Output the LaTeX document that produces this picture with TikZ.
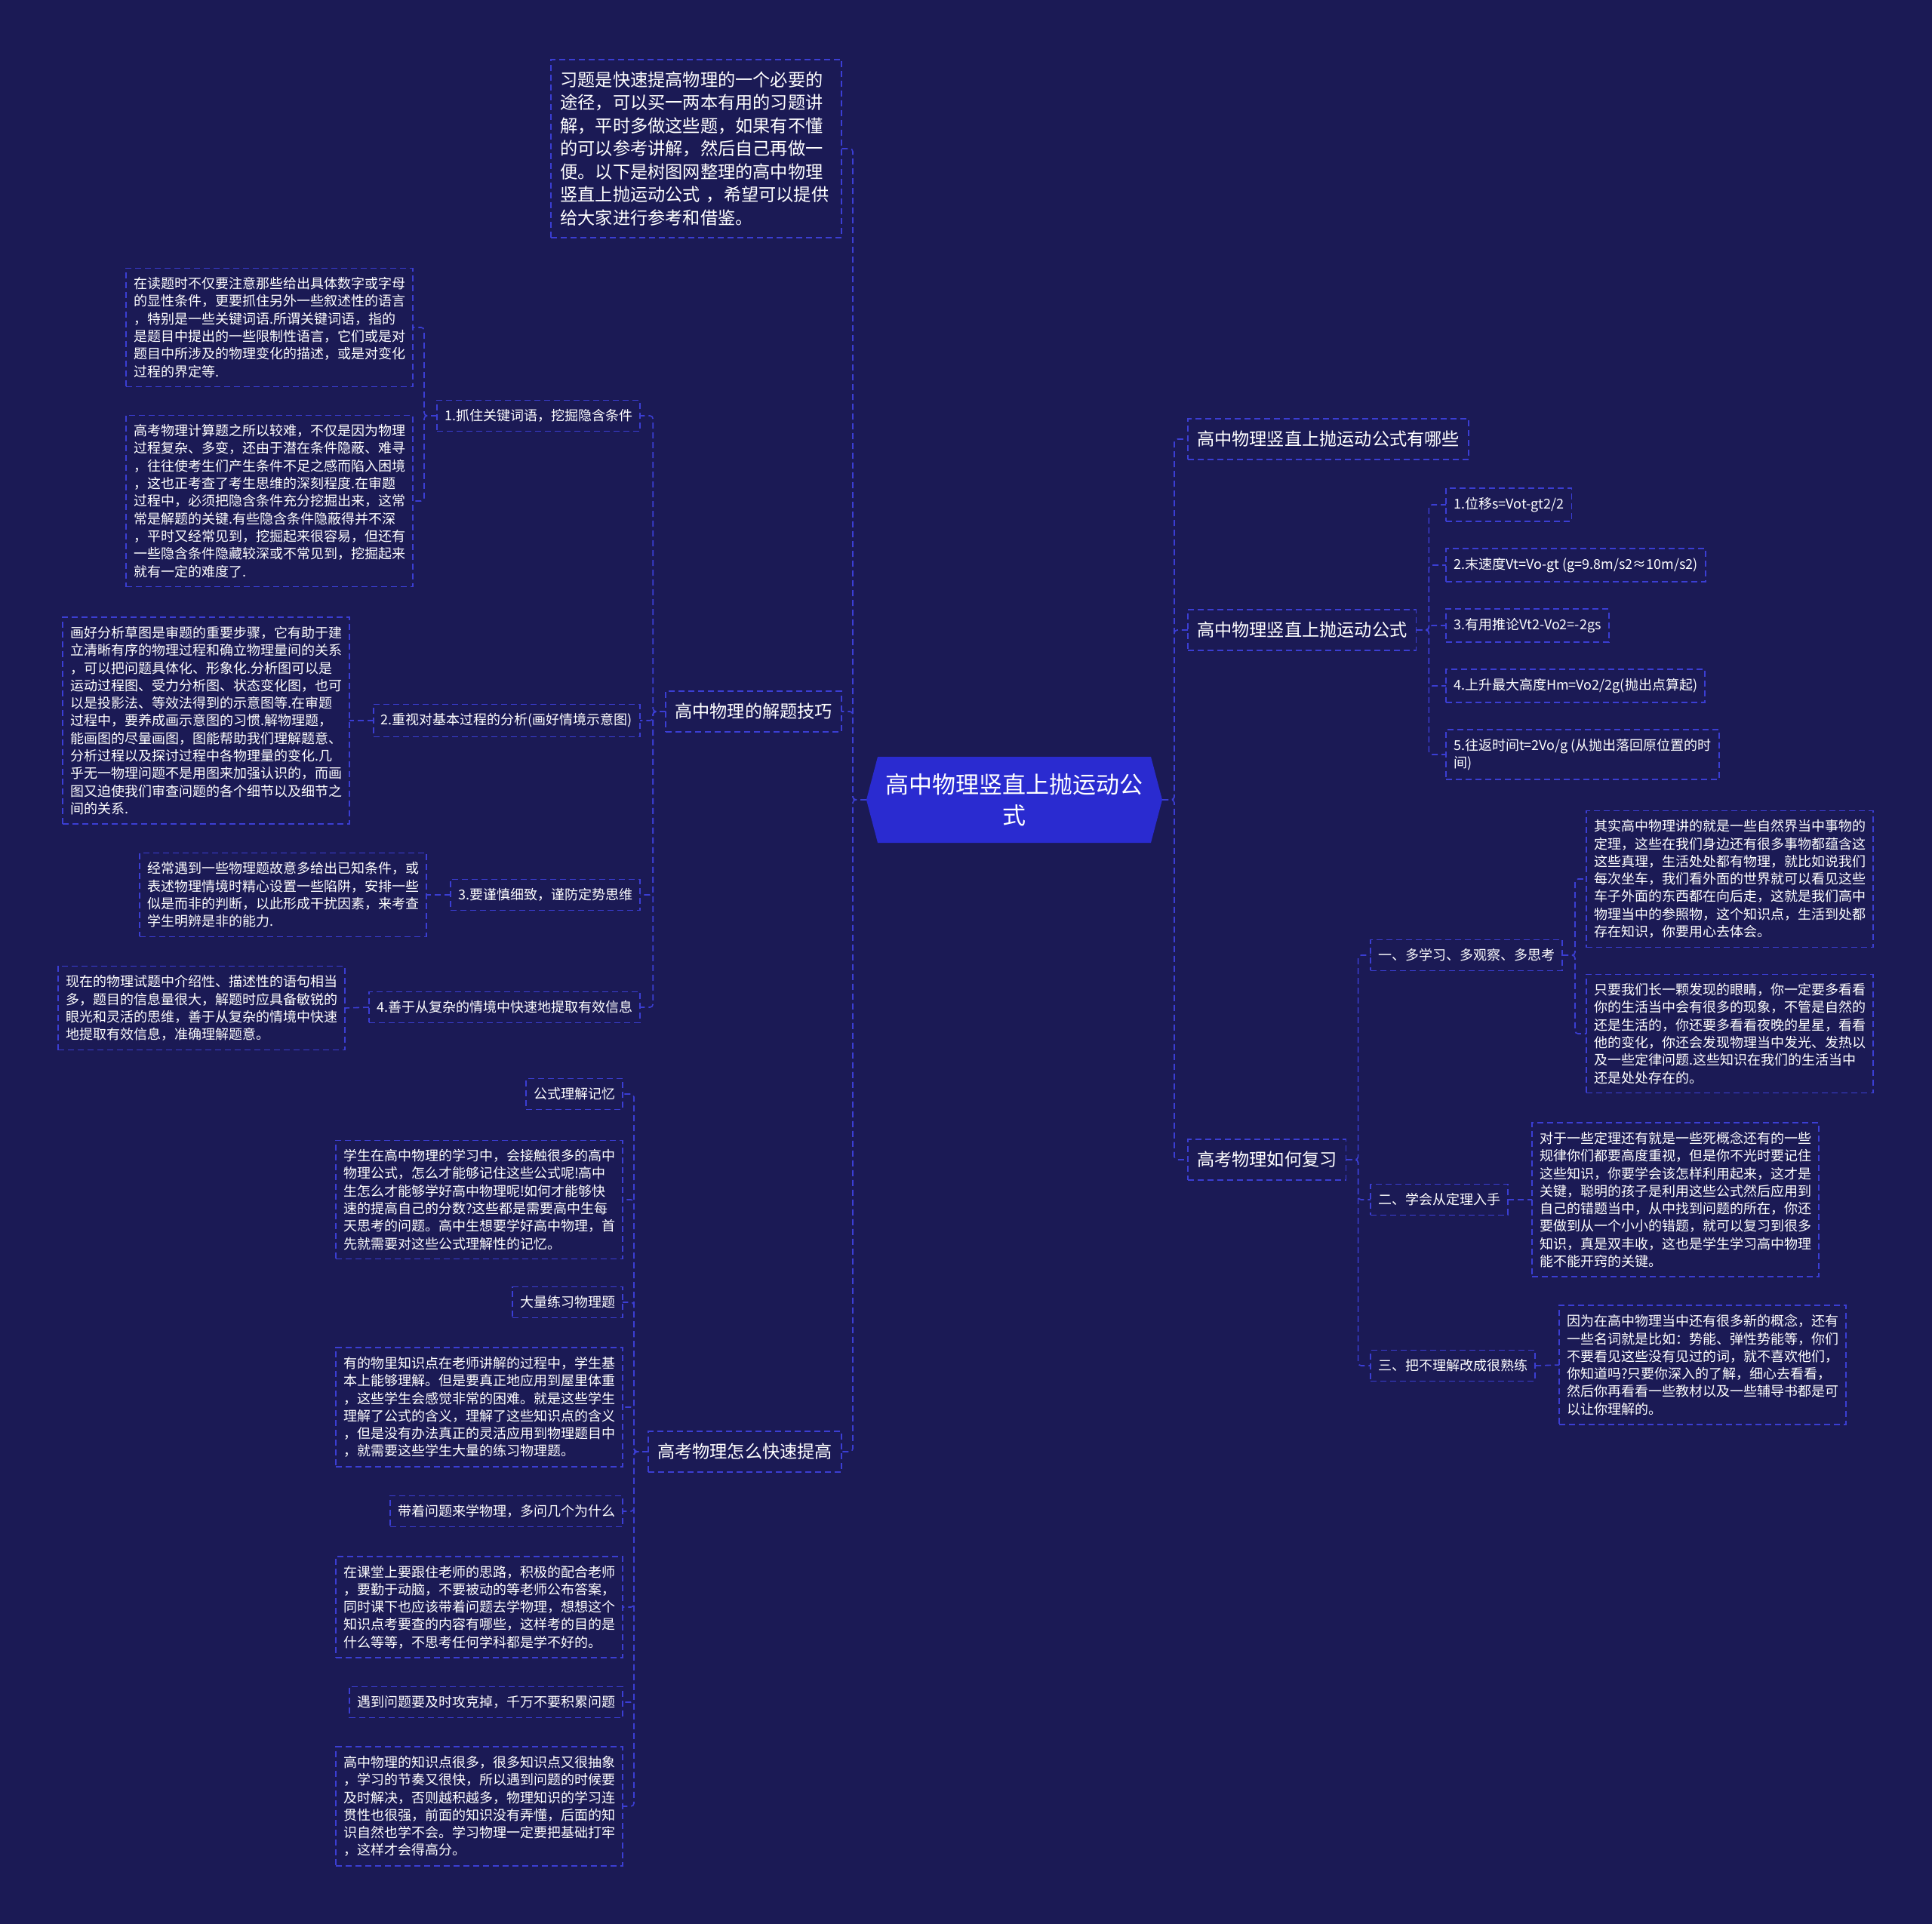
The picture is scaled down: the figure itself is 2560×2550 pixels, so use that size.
\documentclass[tikz,border=0pt]{standalone}
\usepackage{fontspec}
\setmainfont{Noto Sans CJK SC}
\usepackage{tikz}
\usetikzlibrary{positioning}

\definecolor{bgnavy}{HTML}{1B1A55}
\definecolor{linkblue}{HTML}{3B3ED3}
\definecolor{rootblue}{HTML}{2A2BD0}

\begin{document}
\begin{tikzpicture}[x=1pt,y=-1pt,
	every node/.style={text=white, outer sep=0pt},
	box/.style={draw=linkblue, line width=1.6pt, dash pattern=on 8pt off 5pt, inner xsep=10pt, inner ysep=12pt, align=left},
	small/.style={box, font=\fontsize{18}{23.3}\selectfont},
	note/.style={small, text width=360pt},
	topic/.style={box, inner xsep=12pt, inner ysep=16pt, font=\fontsize{23.2}{30.5}\selectfont},
	link/.style={draw=linkblue, line width=1.6pt, dash pattern=on 8pt off 5pt, rounded corners=4pt},
	rootbox/.style={minimum width=392pt, minimum height=114pt, align=center, font=\fontsize{31}{41}\selectfont,
		path picture={\fill[rootblue] ([xshift=15pt]path picture bounding box.north west) -- ([xshift=-15pt]path picture bounding box.north east) -- (path picture bounding box.east) -- ([xshift=-15pt]path picture bounding box.south east) -- ([xshift=15pt]path picture bounding box.south west) -- (path picture bounding box.west) -- cycle;}}]
	\fill[bgnavy] (0,0) rectangle (2560,2550);
	\useasboundingbox (0,0) rectangle (2560,2550);

	\node[rootbox] (root) at (1344,1060) {高中物理竖直上抛运动公\\式};

	% left side
	\node[topic, text width=360pt, inner xsep=12.5pt, anchor=east] (intro) at (1115,197) {习题是快速提高物理的一个必要的\\途径，可以买一两本有用的习题讲\\解，平时多做这些题，如果有不懂\\的可以参考讲解，然后自己再做一\\便。以下是树图网整理的高中物理\\竖直上抛运动公式 ，希望可以提供\\给大家进行参考和借鉴。};
	\node[topic, anchor=east] (skill) at (1115,943) {高中物理的解题技巧};
	\node[topic, anchor=east] (boost) at (1115,1924) {高考物理怎么快速提高};

	\node[small, anchor=east] (k1) at (848,551) {1.抓住关键词语，挖掘隐含条件};
	\node[small, anchor=east] (k2) at (848,955) {2.重视对基本过程的分析(画好情境示意图)};
	\node[small, anchor=east] (k3) at (848,1186) {3.要谨慎细致，谨防定势思维};
	\node[small, anchor=east] (k4) at (848,1335) {4.善于从复杂的情境中快速地提取有效信息};

	\node[note, anchor=east] (k1a) at (547,434) {在读题时不仅要注意那些给出具体数字或字母\\的显性条件，更要抓住另外一些叙述性的语言\\，特别是一些关键词语.所谓关键词语，指的\\是题目中提出的一些限制性语言，它们或是对\\题目中所涉及的物理变化的描述，或是对变化\\过程的界定等.};
	\node[note, anchor=east] (k1b) at (547,664) {高考物理计算题之所以较难，不仅是因为物理\\过程复杂、多变，还由于潜在条件隐蔽、难寻\\，往往使考生们产生条件不足之感而陷入困境\\，这也正考查了考生思维的深刻程度.在审题\\过程中，必须把隐含条件充分挖掘出来，这常\\常是解题的关键.有些隐含条件隐蔽得并不深\\，平时又经常见到，挖掘起来很容易，但还有\\一些隐含条件隐藏较深或不常见到，挖掘起来\\就有一定的难度了.};
	\node[note, anchor=east] (k2a) at (463,955) {画好分析草图是审题的重要步骤，它有助于建\\立清晰有序的物理过程和确立物理量间的关系\\，可以把问题具体化、形象化.分析图可以是\\运动过程图、受力分析图、状态变化图，也可\\以是投影法、等效法得到的示意图等.在审题\\过程中，要养成画示意图的习惯.解物理题，\\能画图的尽量画图，图能帮助我们理解题意、\\分析过程以及探讨过程中各物理量的变化.几\\乎无一物理问题不是用图来加强认识的，而画\\图又迫使我们审查问题的各个细节以及细节之\\间的关系.};
	\node[note, anchor=east] (k3a) at (565,1186) {经常遇到一些物理题故意多给出已知条件，或\\表述物理情境时精心设置一些陷阱，安排一些\\似是而非的判断，以此形成干扰因素，来考查\\学生明辨是非的能力.};
	\node[note, anchor=east] (k4a) at (457,1336) {现在的物理试题中介绍性、描述性的语句相当\\多，题目的信息量很大，解题时应具备敏锐的\\眼光和灵活的思维，善于从复杂的情境中快速\\地提取有效信息，准确理解题意。};

	\node[small, anchor=east] (b1) at (825,1450) {公式理解记忆};
	\node[note, anchor=east] (b1a) at (825,1590) {学生在高中物理的学习中，会接触很多的高中\\物理公式，怎么才能够记住这些公式呢!高中\\生怎么才能够学好高中物理呢!如何才能够快\\速的提高自己的分数?这些都是需要高中生每\\天思考的问题。高中生想要学好高中物理，首\\先就需要对这些公式理解性的记忆。};
	\node[small, anchor=east] (b2) at (825,1726) {大量练习物理题};
	\node[note, anchor=east] (b2a) at (825,1865) {有的物里知识点在老师讲解的过程中，学生基\\本上能够理解。但是要真正地应用到屋里体重\\，这些学生会感觉非常的困难。就是这些学生\\理解了公式的含义，理解了这些知识点的含义\\，但是没有办法真正的灵活应用到物理题目中\\，就需要这些学生大量的练习物理题。};
	\node[small, anchor=east] (b3) at (825,2003) {带着问题来学物理，多问几个为什么};
	\node[note, anchor=east] (b3a) at (825,2130) {在课堂上要跟住老师的思路，积极的配合老师\\，要勤于动脑，不要被动的等老师公布答案，\\同时课下也应该带着问题去学物理，想想这个\\知识点考要查的内容有哪些，这样考的目的是\\什么等等，不思考任何学科都是学不好的。};
	\node[small, anchor=east] (b4) at (825,2256) {遇到问题要及时攻克掉，千万不要积累问题};
	\node[note, anchor=east] (b4a) at (825,2394) {高中物理的知识点很多，很多知识点又很抽象\\，学习的节奏又很快，所以遇到问题的时候要\\及时解决，否则越积越多，物理知识的学习连\\贯性也很强，前面的知识没有弄懂，后面的知\\识自然也学不会。学习物理一定要把基础打牢\\，这样才会得高分。};

	% right side
	\node[topic, anchor=west] (list) at (1574,582) {高中物理竖直上抛运动公式有哪些};
	\node[topic, anchor=west] (formula) at (1574,835) {高中物理竖直上抛运动公式};
	\node[topic, anchor=west] (review) at (1574,1537) {高考物理如何复习};

	\node[small, anchor=west] (f1) at (1916,669) {1.位移s=Vot-gt2/2};
	\node[small, anchor=west] (f2) at (1916,749) {2.末速度Vt=Vo-gt (g=9.8m/s2≈10m/s2)};
	\node[small, anchor=west] (f3) at (1916,829) {3.有用推论Vt2-Vo2=-2gs};
	\node[small, anchor=west] (f4) at (1916,909) {4.上升最大高度Hm=Vo2/2g(抛出点算起)};
	\node[small, anchor=west] (f5) at (1916,1000) {5.往返时间t=2Vo/g (从抛出落回原位置的时\\间)};

	\node[small, anchor=west] (r1) at (1816,1266) {一、多学习、多观察、多思考};
	\node[small, anchor=west] (r2) at (1816,1590) {二、学会从定理入手};
	\node[small, anchor=west] (r3) at (1816,1810) {三、把不理解改成很熟练};

	\node[note, anchor=west] (r1a) at (2102,1165) {其实高中物理讲的就是一些自然界当中事物的\\定理，这些在我们身边还有很多事物都蕴含这\\这些真理，生活处处都有物理，就比如说我们\\每次坐车，我们看外面的世界就可以看见这些\\车子外面的东西都在向后走，这就是我们高中\\物理当中的参照物，这个知识点，生活到处都\\存在知识，你要用心去体会。};
	\node[note, anchor=west] (r1b) at (2102,1370) {只要我们长一颗发现的眼睛，你一定要多看看\\你的生活当中会有很多的现象，不管是自然的\\还是生活的，你还要多看看夜晚的星星，看看\\他的变化，你还会发现物理当中发光、发热以\\及一些定律问题.这些知识在我们的生活当中\\还是处处存在的。};
	\node[note, anchor=west] (r2a) at (2030,1590) {对于一些定理还有就是一些死概念还有的一些\\规律你们都要高度重视，但是你不光时要记住\\这些知识，你要学会该怎样利用起来，这才是\\关键，聪明的孩子是利用这些公式然后应用到\\自己的错题当中，从中找到问题的所在，你还\\要做到从一个小小的错题，就可以复习到很多\\知识，真是双丰收，这也是学生学习高中物理\\能不能开窍的关键。};
	\node[note, anchor=west] (r3a) at (2066,1809) {因为在高中物理当中还有很多新的概念，还有\\一些名词就是比如：势能、弹性势能等，你们\\不要看见这些没有见过的词，就不喜欢他们，\\你知道吗?只要你深入的了解，细心去看看，\\然后你再看看一些教材以及一些辅导书都是可\\以让你理解的。};

	% connectors
	\foreach \c in {intro,skill,boost}
		\draw[link] (root.west) -- ++(-18,0) |- (\c.east);
	\foreach \c in {list,formula,review}
		\draw[link] (root.east) -- ++(16,0) |- (\c.west);
	\foreach \c in {k1,k2,k3,k4}
		\draw[link] (skill.west) -- ++(-17,0) |- (\c.east);
	\foreach \c in {k1a,k1b}
		\draw[link] (k1.west) -- ++(-17,0) |- (\c.east);
	\draw[link] (k2.west) -- (k2a.east);
	\draw[link] (k3.west) -- (k3a.east);
	\draw[link] (k4.west) -- (k4a.east);
	\foreach \c in {b1,b1a,b2,b2a,b3,b3a,b4,b4a}
		\draw[link] (boost.west) -- ++(-19,0) |- (\c.east);
	\foreach \i in {1,...,5}
		\draw[link] (formula.east) -- ++(17,0) |- (f\i.west);
	\foreach \c in {r1,r2,r3}
		\draw[link] (review.east) -- ++(16,0) |- (\c.west);
	\foreach \c in {r1a,r1b}
		\draw[link] (r1.east) -- ++(17,0) |- (\c.west);
	\draw[link] (r2.east) -- (r2a.west);
	\draw[link] (r3.east) -- (r3a.west);
\end{tikzpicture}
\end{document}
